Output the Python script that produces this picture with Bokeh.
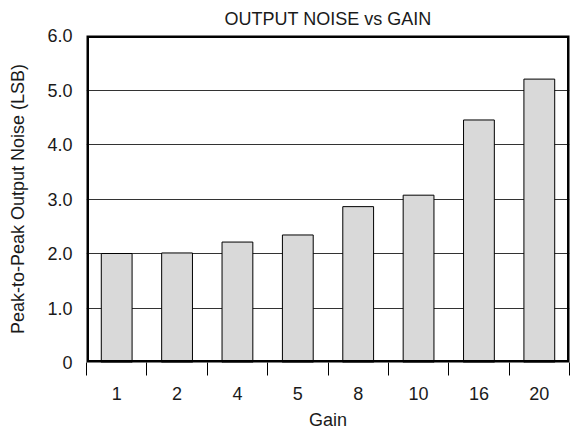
from bokeh.plotting import figure
from bokeh.models import Range1d, FixedTicker, ColumnDataSource
from bokeh.embed import file_html
from bokeh.resources import INLINE

title_text = "OUTPUT NOISE vs GAIN"
gains = ["1", "2", "4", "5", "8", "10", "16", "20"]
noise = [2.0, 2.01, 2.21, 2.34, 2.86, 3.07, 4.45, 5.2]
y_ticks = [0, 1, 2, 3, 4, 5, 6]

xs = [i + 1 for i in range(len(gains))]
src = ColumnDataSource(dict(x=xs, top=noise))

X0, X1 = 0.5, len(gains) + 0.5
Y0, Y1 = y_ticks[0], y_ticks[-1]

FONT = "Liberation Sans"
FS = "18px"
TXT = "#1a1a1a"
p = figure(width=577, height=435, output_backend="svg", toolbar_location=None,
           x_range=Range1d(X0, X1), y_range=Range1d(Y0, Y1),
           title=title_text, min_border_left=86, min_border_right=8,
           min_border_top=34, min_border_bottom=73)

p.title.align = "center"
p.title.text_font = FONT
p.title.text_font_size = FS
p.title.text_font_style = "normal"
p.title.text_color = TXT
p.title.standoff = 13

p.vbar(x="x", top="top", bottom=0, width=0.51, source=src,
       fill_color="#d9d9d9", line_color="black", line_width=1)

# plot frame border (clipped to the frame, so half of the width shows)
p.quad(left=[X0], right=[X1], bottom=[Y0], top=[Y1], fill_alpha=0,
       line_color="black", line_width=5)

p.outline_line_color = None

p.xgrid.grid_line_color = None
p.ygrid.grid_line_color = "#333333"
p.ygrid.grid_line_width = 1
p.ygrid.ticker = FixedTicker(ticks=y_ticks)

xa = p.xaxis[0]
xa.ticker = FixedTicker(ticks=xs, minor_ticks=[i + 0.5 for i in range(len(gains) + 1)])
xa.major_label_overrides = {x: g for x, g in zip(xs, gains)}
xa.major_tick_out = 0
xa.major_tick_in = 0
xa.minor_tick_out = 13
xa.minor_tick_in = 0
xa.minor_tick_line_color = "black"
xa.axis_line_color = None
xa.major_label_standoff = 11
xa.axis_label = "Gain"
xa.axis_label_standoff = 7

ya = p.yaxis[0]
ya.ticker = FixedTicker(ticks=y_ticks)
ya.major_label_overrides = {t: ("0" if t == 0 else f"{t:.1f}") for t in y_ticks}
ya.major_tick_out = 0
ya.major_tick_in = 0
ya.minor_tick_out = 0
ya.minor_tick_in = 0
ya.axis_line_color = None
ya.major_label_standoff = 14
ya.axis_label = "Peak-to-Peak Output Noise (LSB)"
ya.axis_label_standoff = 16

for ax in (xa, ya):
    ax.major_label_text_font = FONT
    ax.major_label_text_font_size = FS
    ax.major_label_text_color = TXT
    ax.axis_label_text_font = FONT
    ax.axis_label_text_font_size = FS
    ax.axis_label_text_font_style = "normal"
    ax.axis_label_text_color = TXT

p.background_fill_color = "white"
p.border_fill_color = "white"

open("out.html", "w").write(file_html(p, INLINE))
